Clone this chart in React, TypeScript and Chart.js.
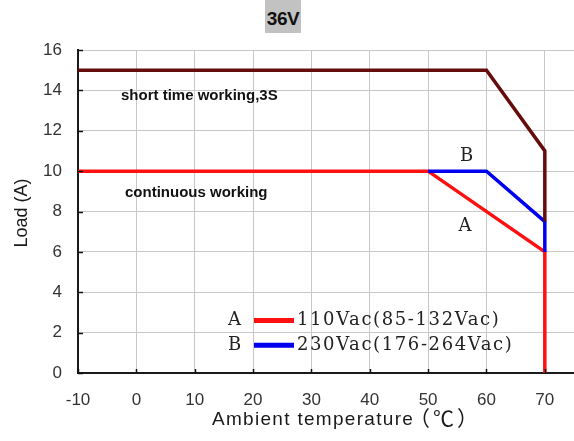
import { useEffect, useRef } from "react";
import { Chart, registerables } from "chart.js";

Chart.register(...registerables);

// ---- data ----
const xTickValues = [-10, 0, 10, 20, 30, 40, 50, 60, 70];
const yTickValues = [0, 2, 4, 6, 8, 10, 12, 14, 16];

const shortTimeTemp = [-10, 60, 70, 70];
const shortTimeLoad = [15, 15, 11, 7.5];

const seriesATemp = [-10, 50, 70, 70];
const seriesALoad = [10, 10, 6, 0];

const seriesBTemp = [50, 60, 70, 70];
const seriesBLoad = [10, 10, 7.5, 6];

const legendLabels = ["110Vac(85-132Vac)", "230Vac(176-264Vac)"];
const legendKeys = ["A", "B"];

const toPoints = (xs: number[], ys: number[]) => xs.map((x, i) => ({ x, y: ys[i] }));

const COLOR_SHORT = "#650d0d";
const COLOR_A = "#ff1010";
const COLOR_B = "#0000f0";

const SERIF = '"DejaVu Serif", "Liberation Serif", serif';

const overlayPlugin = {
  id: "overlay",
  afterDraw(chart: any) {
    const ctx = chart.ctx as CanvasRenderingContext2D;
    const xs = chart.scales.x;
    const ys = chart.scales.y;
    const area = chart.chartArea;
    ctx.save();

    // inward tick marks
    ctx.strokeStyle = "#111";
    ctx.lineWidth = 1.5;
    yTickValues.forEach((v) => {
      const py = Math.round(ys.getPixelForValue(v)) + 0.5;
      ctx.beginPath();
      ctx.moveTo(area.left, py);
      ctx.lineTo(area.left + 5, py);
      ctx.stroke();
    });
    xTickValues.forEach((v) => {
      const px = Math.round(xs.getPixelForValue(v)) + 0.5;
      ctx.beginPath();
      ctx.moveTo(px, area.bottom);
      ctx.lineTo(px, area.bottom - 4);
      ctx.stroke();
    });

    // region annotations
    ctx.fillStyle = "#111";
    ctx.textBaseline = "middle";
    ctx.textAlign = "left";
    ctx.font = 'bold 15px "Liberation Sans", Arial, sans-serif';
    ctx.fillText("short time working,3S", 121, ys.getPixelForValue(13.75));
    ctx.fillText("continuous working", 125, ys.getPixelForValue(8.9));

    // curve keys
    ctx.font = `18px ${SERIF}`;
    ctx.fillStyle = "#222";
    ctx.textAlign = "center";
    ctx.fillText("B", xs.getPixelForValue(56.6), ys.getPixelForValue(10.75));
    ctx.fillText("A", xs.getPixelForValue(56.3), ys.getPixelForValue(7.25));

    // legend
    const legendColors = [COLOR_A, COLOR_B];
    const rowY = [ys.getPixelForValue(2.6), ys.getPixelForValue(1.37)];
    legendKeys.forEach((k, i) => {
      ctx.textAlign = "center";
      ctx.fillStyle = "#222";
      (ctx as any).letterSpacing = "0px";
      ctx.fillText(k, 234.5, rowY[i]);
      ctx.strokeStyle = legendColors[i];
      ctx.lineWidth = 5;
      ctx.beginPath();
      ctx.moveTo(254, rowY[i]);
      ctx.lineTo(294, rowY[i]);
      ctx.stroke();
      ctx.textAlign = "left";
      (ctx as any).letterSpacing = "1.6px";
      ctx.fillText(legendLabels[i], 297, rowY[i]);
    });
    (ctx as any).letterSpacing = "0px";

    // axis titles
    ctx.fillStyle = "#1a1a1a";
    ctx.textBaseline = "alphabetic";
    ctx.textAlign = "left";
    ctx.font = '19px "Liberation Sans", Arial, sans-serif';
    (ctx as any).letterSpacing = "1.3px";
    ctx.fillText("Ambient temperature", 212, 425);
    (ctx as any).letterSpacing = "3px";
    ctx.font = '21px "Noto Sans CJK SC", sans-serif';
    ctx.fillText("（℃）", 409, 426);
    (ctx as any).letterSpacing = "0px";

    ctx.save();
    ctx.translate(22.5, 213);
    ctx.rotate(-Math.PI / 2);
    ctx.textAlign = "center";
    ctx.textBaseline = "middle";
    ctx.font = '18px "Liberation Sans", Arial, sans-serif';
    ctx.fillText("Load (A)", 0, 0);
    ctx.restore();

    ctx.restore();
  },
};

export default function App() {
  const ref = useRef<HTMLCanvasElement>(null);

  useEffect(() => {
    if (!ref.current) return;
    const chart = new Chart(ref.current, {
      type: "scatter",
      data: {
        datasets: [
          {
            label: "short time working,3S",
            data: toPoints(shortTimeTemp, shortTimeLoad),
            showLine: true,
            borderColor: COLOR_SHORT,
            borderWidth: 3.5,
            pointRadius: 0,
            fill: false,
          },
          {
            label: "B",
            data: toPoints(seriesBTemp, seriesBLoad),
            showLine: true,
            borderColor: COLOR_B,
            borderWidth: 3.5,
            pointRadius: 0,
            fill: false,
          },
          {
            label: "A",
            data: toPoints(seriesATemp, seriesALoad),
            showLine: true,
            borderColor: COLOR_A,
            borderWidth: 3.5,
            pointRadius: 0,
            fill: false,
          },
        ],
      },
      options: {
        responsive: false,
        animation: false,
        devicePixelRatio: 1,
        layout: { padding: { top: 50, left: 0, right: 0, bottom: 0 } },
        plugins: {
          legend: { display: false },
          tooltip: { enabled: false },
          title: { display: false },
        },
        scales: {
          x: {
            type: "linear",
            min: -10,
            max: 75,
            afterBuildTicks: (axis: any) => {
              axis.ticks = xTickValues.map((v) => ({ value: v }));
            },
            afterFit: (axis: any) => {
              axis.height = 68;
            },
            grid: { color: "#c8c8c8", lineWidth: 1, drawTicks: false },
            border: { color: "#1a1a1a", width: 2 },
            ticks: {
              padding: 17,
              color: "#333",
              font: { family: '"Liberation Sans", Arial, sans-serif', size: 17 },
              maxRotation: 0,
            },
          },
          y: {
            type: "linear",
            min: 0,
            max: 16,
            afterBuildTicks: (axis: any) => {
              axis.ticks = yTickValues.map((v) => ({ value: v }));
            },
            afterFit: (axis: any) => {
              axis.width = 78;
            },
            grid: { color: "#c8c8c8", lineWidth: 1, drawTicks: false },
            border: { color: "#1a1a1a", width: 2 },
            ticks: {
              padding: 16,
              color: "#333",
              font: { family: '"Liberation Sans", Arial, sans-serif', size: 17 },
            },
          },
        },
      },
      plugins: [overlayPlugin],
    });
    return () => chart.destroy();
  }, []);

  return (
    <div style={{ position: "absolute", left: 0, top: 0, width: 574, height: 441, background: "#fff" }}>
      <canvas ref={ref} width={574} height={441} style={{ display: "block", width: 574, height: 441 }} />
      <div
        style={{
          position: "absolute",
          left: 265,
          top: 0,
          width: 36,
          height: 33,
          background: "#c2c2c2",
          color: "#111",
          fontFamily: '"Liberation Sans", Arial, sans-serif',
          fontWeight: "bold",
          fontSize: 19,
          lineHeight: "38px",
          textAlign: "center",
          letterSpacing: "-0.5px",
        }}
      >
        36V
      </div>
    </div>
  );
}
